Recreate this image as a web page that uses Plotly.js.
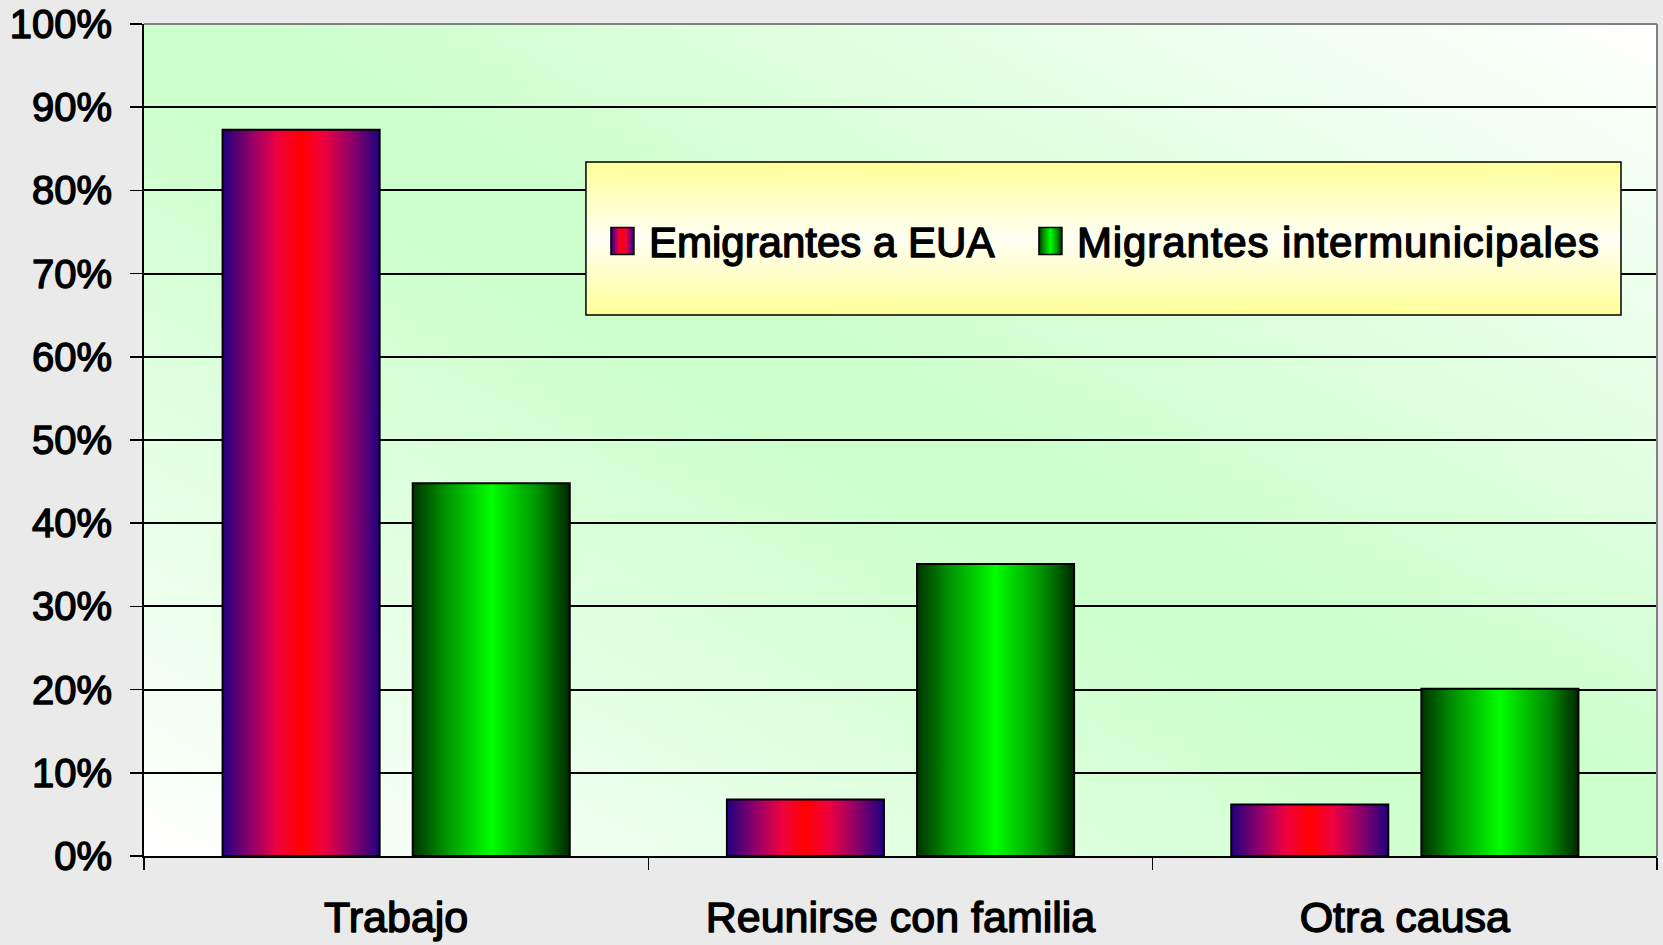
<!DOCTYPE html>
<html><head><meta charset="utf-8">
<script src="https://cdn.plot.ly/plotly-3.0.1.min.js"></script>
<style>html,body{margin:0;padding:0;background:#EAEAEA;} #chart{width:1663px;height:945px;}</style>
</head><body><div id="chart"></div>
<script>
// ---- data ----
const categories = ['Trabajo', 'Reunirse con familia', 'Otra causa'];
const seriesNames = ['Emigrantes a EUA', 'Migrantes intermunicipales'];
const emigrantesEUA = [87.3, 6.8, 6.2];
const migrantesIntermunicipales = [44.8, 35.1, 20.1];
const yTickVals = [0, 10, 20, 30, 40, 50, 60, 70, 80, 90, 100];
const yTickText = ['0%', '10%', '20%', '30%', '40%', '50%', '60%', '70%', '80%', '90%', '100%'];

const FONT = '"Liberation Sans", Arial, sans-serif';

const data = [
  {type: 'bar', name: seriesNames[0], x: categories, y: emigrantesEUA,
   marker: {color: '#FF0000', line: {color: '#000', width: 2}}},
  {type: 'bar', name: seriesNames[1], x: categories, y: migrantesIntermunicipales,
   marker: {color: '#00FF00', line: {color: '#000', width: 2}}}
];

const layout = {
  width: 1663, height: 945,
  paper_bgcolor: '#EAEAEA', plot_bgcolor: '#CCFFCC',
  margin: {l: 144, r: 6, t: 24, b: 89, pad: 0},
  barmode: 'group', bargap: 0.246, bargroupgap: 0.174,
  font: {family: FONT, color: '#000'},
  showlegend: true,
  xaxis: {type: 'category', tickson: 'boundaries', ticks: 'outside', ticklen: 12, tickwidth: 1.5,
          tickcolor: '#000', showline: true, linecolor: '#000', linewidth: 2, showgrid: false,
          ticklabelstandoff: 22,
          tickfont: {size: 43, family: FONT, color: '#000'}, fixedrange: true},
  yaxis: {range: [0, 100], tickmode: 'array', tickvals: yTickVals, ticktext: yTickText,
          ticks: 'outside', ticklen: 12, tickwidth: 1.5, tickcolor: '#000',
          showline: true, linecolor: '#000', linewidth: 2, ticklabelstandoff: 10,
          showgrid: true, gridcolor: '#000', gridwidth: 2, zeroline: false,
          tickfont: {size: 40, family: FONT, color: '#000'}, fixedrange: true},
  legend: {orientation: 'h', x: 0.3073, xanchor: 'left', y: 0.739, yanchor: 'middle',
           bgcolor: 'rgba(0,0,0,0)', borderwidth: 0, font: {size: 42, family: FONT, color: '#000'},
           entrywidth: 383, entrywidthmode: 'pixels', traceorder: 'normal'},
  shapes: [
    {type: 'line', xref: 'paper', yref: 'paper', x0: 0, x1: 1, y0: 1, y1: 1, layer: 'above',
     line: {color: '#808080', width: 2}},
    {type: 'line', xref: 'paper', yref: 'paper', x0: 1, x1: 1, y0: 0, y1: 1, layer: 'above',
     line: {color: '#808080', width: 2}},
    {type: 'rect', xref: 'paper', yref: 'paper', x0: 0.2921, x1: 0.9762, y0: 0.6502, y1: 0.8341,
     layer: 'above', fillcolor: '#FFFF99', line: {color: '#000', width: 1.5}}
  ]
};

function addGradient(defs, id, x1, y1, x2, y2, stops) {
  const ns = 'http://www.w3.org/2000/svg';
  const g = document.createElementNS(ns, 'linearGradient');
  g.setAttribute('id', id);
  g.setAttribute('x1', x1); g.setAttribute('y1', y1);
  g.setAttribute('x2', x2); g.setAttribute('y2', y2);
  stops.forEach(s => {
    const st = document.createElementNS(ns, 'stop');
    st.setAttribute('offset', s[0]);
    st.setAttribute('stop-color', s[1]);
    g.appendChild(st);
  });
  defs.appendChild(g);
}

function styleChart(gd) {
  const ns = 'http://www.w3.org/2000/svg';
  const svg = gd.querySelector('svg.main-svg');
  const defs = document.createElementNS(ns, 'defs');
  svg.insertBefore(defs, svg.firstChild);
  addGradient(defs, 'gRed', 0, 0, 1, 0, [[0, '#200080'], [0.2, '#9C0066'], [0.35, '#EE0040'], [0.5, '#FF0000'], [0.65, '#EE0040'], [0.8, '#9C0066'], [1, '#200080']]);
  addGradient(defs, 'gGreen', 0, 0, 1, 0, [[0, '#003300'], [0.2, '#009000'], [0.5, '#00FF00'], [0.8, '#009000'], [1, '#002800']]);
  addGradient(defs, 'gBg', 0, 1, 1, 0, [[0, '#FFFFFF'], [0.47, '#CCFFCC'], [0.53, '#CCFFCC'], [1, '#FFFFFF']]);
  addGradient(defs, 'gLeg', 0, 0, 0, 1, [[0, '#FFFF99'], [0.5, '#FFFFF4'], [1, '#FFFF99']]);
  const grads = ['url(#gRed)', 'url(#gGreen)'];

  gd.querySelectorAll('rect.bg').forEach(r => { if (!r.closest('.legend')) r.style.fill = 'url(#gBg)'; });
  gd.querySelectorAll('.barlayer .trace').forEach((t, i) => {
    t.querySelectorAll('.point path').forEach(p => { p.style.fill = grads[i]; });
  });
  const leg = gd.querySelector('.legend');
  if (leg) {
    leg.removeAttribute('clip-path');
    leg.querySelectorAll('[clip-path]').forEach(e => e.removeAttribute('clip-path'));
  }
  gd.querySelectorAll('.legend .traces').forEach((t, i) => {
    t.querySelectorAll('.legendpoints path').forEach(p => {
      p.setAttribute('d', 'M-18,-13.5h23v27h-23z');
      p.style.fill = grads[i];
      p.style.stroke = '#000';
      p.style.strokeWidth = '1.5px';
    });
    if (i === 1) {
      const tx = t.querySelector('text.legendtext');
      if (tx) tx.style.letterSpacing = '0.9px';
    }
  });
  gd.querySelectorAll('.xtick text, .ytick text, .legend text.legendtext').forEach(tx => {
    tx.style.stroke = '#000';
    tx.style.strokeWidth = '1.4px';
    tx.style.strokeLinejoin = 'round';
  });
  gd.querySelectorAll('.layer-above .shapelayer path').forEach(p => {
    if (p.getAttribute('data-index') === '2') p.style.fill = 'url(#gLeg)';
  });
}

Plotly.newPlot('chart', data, layout, {staticPlot: true, displayModeBar: false}).then(styleChart);
</script>
</body></html>
